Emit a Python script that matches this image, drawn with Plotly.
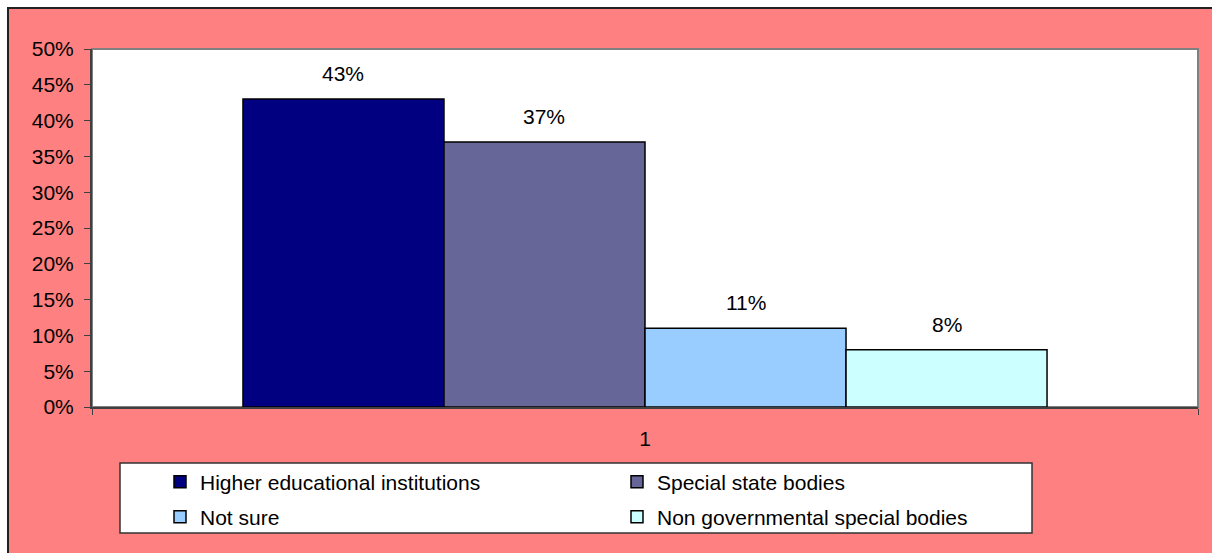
import plotly.graph_objects as go

# Survey answers, one bar per answer in the single category "1"
categories = ["1"]
series_names = [
    "Higher educational institutions",
    "Special state bodies",
    "Not sure",
    "Non governmental special bodies",
]
series_values = [0.43, 0.37, 0.11, 0.08]
series_colors = ["#000080", "#666699", "#99CCFF", "#CCFFFF"]
y_tick_values = [0, 0.05, 0.10, 0.15, 0.20, 0.25, 0.30, 0.35, 0.40, 0.45, 0.50]

FONT = "Arial, Liberation Sans, sans-serif"
FS = 21
WIDTH, HEIGHT = 1212, 553
L, T, R, B = 92, 49, 14, 146
PW, PH = WIDTH - L - R, HEIGHT - T - B
BARGAP = 0.273


def px_x(px):
    return (px - L) / PW


def px_y(py):
    return (T + PH - py) / PH


fig = go.Figure()
for k, (name, val, col) in enumerate(zip(series_names, series_values, series_colors)):
    fig.add_trace(go.Bar(
        x=categories,
        y=[val],
        name=name,
        marker=dict(color=col, line=dict(color="#000000", width=1.5)),
        legend="legend" if k < 2 else "legend2",
        hoverinfo="skip",
    ))

# value labels above each bar
n = len(series_values)
bw = (1 - BARGAP) / n
for k, val in enumerate(series_values):
    fig.add_annotation(
        x=(k - (n - 1) / 2) * bw, y=val, xref="x", yref="y",
        text=f"{round(val * 100)}%", showarrow=False,
        yanchor="bottom", yshift=12,
        font=dict(family=FONT, size=FS, color="#000000"),
    )

shapes = [
    # pink chart area with dark frame
    dict(type="rect", xref="paper", yref="paper",
         x0=px_x(8), x1=px_x(1230), y0=px_y(570), y1=px_y(8),
         fillcolor="#FF8080", line=dict(color="#222222", width=2), layer="below"),
    # white plot area with gray frame
    dict(type="rect", xref="paper", yref="paper",
         x0=0, x1=1, y0=0, y1=1,
         fillcolor="#FFFFFF", line=dict(color="#808080", width=2), layer="below"),
    # legend box
    dict(type="rect", xref="paper", yref="paper",
         x0=px_x(120), x1=px_x(1032), y0=px_y(533), y1=px_y(463),
         fillcolor="#FFFFFF", line=dict(color="#333333", width=1.5), layer="below"),
]

legend_common = dict(
    orientation="h", xanchor="left", yanchor="middle",
    bgcolor="rgba(0,0,0,0)", borderwidth=0,
    font=dict(family=FONT, size=FS, color="#000000"),
    entrywidth=412, entrywidthmode="pixels",
    itemclick=False, itemdoubleclick=False,
)

fig.update_layout(
    width=WIDTH, height=HEIGHT,
    margin=dict(l=L, r=R, t=T, b=B, pad=0),
    paper_bgcolor="#FFFFFF",
    plot_bgcolor="rgba(0,0,0,0)",
    barmode="group", bargap=BARGAP, bargroupgap=0,
    showlegend=True,
    shapes=shapes,
    font=dict(family=FONT, size=FS, color="#000000"),
    legend=dict(x=px_x(160), y=px_y(482), **legend_common),
    legend2=dict(x=px_x(160), y=px_y(517), **legend_common),
    xaxis=dict(
        type="category", range=[-0.5, 0.5],
        showline=True, linecolor="#404040", linewidth=2,
        ticks="outside", tickson="boundaries", ticklen=6, tickcolor="#404040",
        tickfont=dict(family=FONT, size=FS, color="#000000"),
        ticklabelstandoff=12,
        showgrid=False, zeroline=False, fixedrange=True,
    ),
    yaxis=dict(
        range=[0, 0.5], tickvals=y_tick_values, tickformat=".0%",
        showline=True, linecolor="#404040", linewidth=2,
        ticks="outside", ticklen=6, tickcolor="#404040",
        tickfont=dict(family=FONT, size=FS, color="#000000"),
        ticklabelstandoff=6,
        showgrid=False, zeroline=False, fixedrange=True,
    ),
)

fig.write_html("out.html", config={"displayModeBar": False})
